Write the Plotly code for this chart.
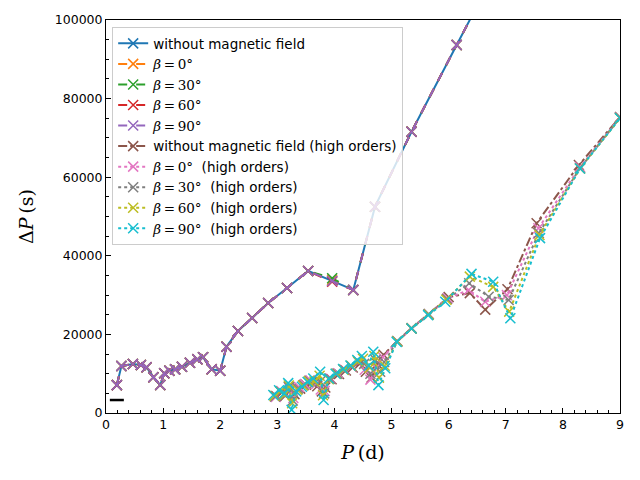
import plotly.graph_objects as go

# ---- low-order sequences (P in days, Delta P in seconds) ----
x_low = [0.19, 0.27, 0.47, 0.61, 0.71, 0.83, 0.95, 1.02, 1.11, 1.21, 1.33, 1.47, 1.60, 1.70,
         1.85, 2.00, 2.11, 2.31, 2.56, 2.84, 3.17, 3.54, 3.96, 4.33, 4.71, 5.35, 6.14, 6.73]
y_nofield = [7100, 11960, 12470, 12200, 11630, 9080, 7125, 10100, 10770, 11100, 11780, 12800, 13660, 14170,
             11120, 10770, 16870, 20860, 24170, 27990, 31800, 36130, 33600, 31300, 52500, 71580, 93640, 110000]
y_b0 = [7100, 11960, 12470, 12200, 11630, 9080, 7125, 10100, 10770, 11100, 11780, 12800, 13660, 14170,
        11120, 10770, 16870, 20860, 24170, 27990, 31800, 36130, 33900, 31300, 52500, 71580, 93640, 110000]
y_b30 = [7100, 11960, 12470, 12200, 11630, 9080, 7125, 10100, 10770, 11100, 11780, 12800, 13660, 14170,
         11120, 10770, 16870, 20860, 24170, 27990, 31800, 36130, 34300, 31300, 52500, 71580, 93640, 110000]
y_b60 = [7100, 11960, 12470, 12200, 11630, 9080, 7125, 10100, 10770, 11100, 11780, 12800, 13660, 14170,
         11120, 10770, 16870, 20860, 24170, 27990, 31800, 36130, 33400, 31300, 52500, 71580, 93640, 110000]
y_b90 = [7100, 11960, 12470, 12200, 11630, 9080, 7125, 10100, 10770, 11100, 11780, 12800, 13660, 14170,
         11120, 10770, 16870, 20860, 24170, 27990, 31800, 36130, 33600, 31300, 52500, 71580, 93640, 110000]

# ---- high-order sequences ----
x_hi_nofield = [2.98, 3.08, 3.15, 3.22, 3.30, 3.40, 3.50, 3.60, 3.70, 3.78, 3.84, 3.95, 4.08, 4.20, 4.32,
                4.45, 4.55, 4.65, 4.75, 4.86, 5.10, 5.35, 5.65, 6.00, 6.37, 6.64, 7.03, 7.54, 8.28, 9.00]
y_hi_nofield = [4300, 5200, 4500, 5800, 4800, 6200, 7200, 7800, 6800, 5500, 6500, 8600, 9900, 10800, 11600,
                12600, 10500, 9000, 12500, 14800, 18300, 21600, 25200, 29500, 30500, 26300, 31500, 48300, 63100, 75300]

x_hi_b0 = [2.97, 3.07, 3.14, 3.21, 3.28, 3.38, 3.48, 3.58, 3.68, 3.76, 3.83, 3.93, 4.06, 4.18, 4.30,
           4.43, 4.53, 4.63, 4.73, 4.85, 5.10, 5.35, 5.65, 5.98, 6.35, 6.64, 7.02, 7.57, 8.30, 9.00]
y_hi_b0 = [4100, 5600, 4800, 6300, 3800, 6600, 7400, 8300, 7400, 6000, 5600, 8800, 10100, 11000, 11800,
           13000, 11000, 8500, 11500, 14200, 18200, 21500, 25100, 29200, 31300, 28300, 30000, 47000, 62600, 75200]

x_hi_b30 = [2.96, 3.06, 3.14, 3.20, 3.27, 3.36, 3.46, 3.56, 3.66, 3.75, 3.82, 3.92, 4.05, 4.17, 4.30, 4.42,
            4.52, 4.63, 4.72, 4.80, 4.87, 5.10, 5.35, 5.65, 5.97, 6.36, 6.70, 7.05, 7.58, 8.30, 9.00]
y_hi_b30 = [4200, 5400, 4600, 6600, 3200, 6200, 7100, 8200, 7700, 8000, 5000, 8700, 10000, 11000, 11900, 13000,
            12500, 10000, 13500, 10500, 13000, 18200, 21500, 25100, 29000, 33000, 29600, 28750, 45800, 62300, 75100]

x_hi_b60 = [2.95, 3.05, 3.13, 3.20, 3.26, 3.35, 3.45, 3.55, 3.65, 3.74, 3.80, 3.90, 4.03, 4.16, 4.29, 4.41,
            4.50, 4.62, 4.70, 4.78, 4.88, 5.10, 5.35, 5.65, 5.96, 6.37, 6.78, 7.06, 7.59, 8.30, 9.00]
y_hi_b60 = [4400, 5500, 4700, 7000, 2500, 5900, 7000, 8100, 8000, 9500, 4500, 8600, 10000, 11000, 12000, 13200,
            13800, 11500, 14500, 9000, 12000, 18200, 21500, 25000, 28800, 34700, 32100, 25800, 45300, 62200, 75000]

x_hi_b90 = [2.93, 3.03, 3.12, 3.19, 3.25, 3.33, 3.43, 3.53, 3.63, 3.75, 3.81, 3.90, 4.02, 4.15, 4.28, 4.40,
            4.48, 4.60, 4.68, 4.77, 4.89, 5.09, 5.35, 5.64, 5.94, 6.40, 6.78, 7.08, 7.60, 8.30, 9.00]
y_hi_b90 = [4600, 5800, 5000, 7600, 800, 5500, 6700, 7900, 8800, 10500, 3300, 8800, 10000, 11200, 12100, 13500,
            14500, 12000, 15600, 7100, 11400, 18100, 21500, 24900, 28300, 35400, 33400, 24100, 44500, 62200, 75000]

# short black mark near origin
x_mark = [0.19]
y_mark = [3300]

x_ticks = [0, 1, 2, 3, 4, 5, 6, 7, 8, 9]
y_ticks = [0, 20000, 40000, 60000, 80000, 100000]

SERIF = "'DejaVu Serif'"
def beta(deg, suffix=""):
    return (f"<span style=\"font-family:{SERIF}\"><i>β</i>\u2009=\u2009{deg}°</span>" + suffix)

series = [
    (x_low, y_nofield, "without magnetic field", "#1f77b4", "solid"),
    (x_low, y_b0, beta(0), "#ff7f0e", "dash"),
    (x_low, y_b30, beta(30), "#2ca02c", "dash"),
    (x_low, y_b60, beta(60), "#d62728", "dash"),
    (x_low, y_b90, beta(90), "#9467bd", "dash"),
    (x_hi_nofield, y_hi_nofield, "without magnetic field (high orders)", "#8c564b", "dashdot"),
    (x_hi_b0, y_hi_b0, beta(0, "  (high orders)"), "#e377c2", "dot"),
    (x_hi_b30, y_hi_b30, beta(30, "  (high orders)"), "#7f7f7f", "dot"),
    (x_hi_b60, y_hi_b60, beta(60, "  (high orders)"), "#bcbd22", "dot"),
    (x_hi_b90, y_hi_b90, beta(90, "  (high orders)"), "#17becf", "dot"),
]

fig = go.Figure()
for xs, ys, name, c, dash in series:
    fig.add_trace(go.Scatter(
        x=xs, y=ys, name=name, mode="lines+markers",
        line=dict(color=c, width=2, dash=dash),
        marker=dict(symbol="x-thin", size=10, color=c, line=dict(width=1.5, color=c)),
    ))

fig.add_trace(go.Scatter(
    x=x_mark, y=y_mark, mode="markers", showlegend=False,
    marker=dict(symbol="line-ew", size=10, color="black", line=dict(width=2.5, color="black")),
))

axis_common = dict(
    showline=True, mirror=True, linecolor="black", linewidth=1, automargin=False,
    showgrid=False, zeroline=False, ticks="inside", ticklen=5, tickwidth=1, tickcolor="black",
    tickfont=dict(family="DejaVu Sans", size=12.5, color="black"),
)

fig.update_layout(
    width=640, height=480,
    margin=dict(l=98, r=28, t=12, b=75),
    paper_bgcolor="white", plot_bgcolor="white",
    font=dict(family="DejaVu Sans", size=12, color="black"),
    xaxis=dict(range=[0, 9], tickvals=x_ticks,
               title=dict(text="<i>P</i>\u2009(d)", font=dict(family="DejaVu Serif", size=19), standoff=14),
               minor=dict(ticks="inside", ticklen=3, dtick=0.2, tickcolor="black"),
               **axis_common),
    yaxis=dict(range=[0, 100000], tickvals=y_ticks, tickformat="d",
               title=dict(text="Δ<i>P</i>\u2009(s)", font=dict(family="DejaVu Serif", size=19), standoff=16),
               minor=dict(ticks="inside", ticklen=3, dtick=5000, tickcolor="black"),
               **axis_common),
    legend=dict(x=0.012, y=0.982, xanchor="left", yanchor="top",
                bgcolor="rgba(255,255,255,0.8)", bordercolor="#cccccc", borderwidth=1,
                font=dict(family="DejaVu Sans", size=13.5, color="black"),
                itemwidth=30, tracegroupgap=0),
)

fig.write_html("out.html")
